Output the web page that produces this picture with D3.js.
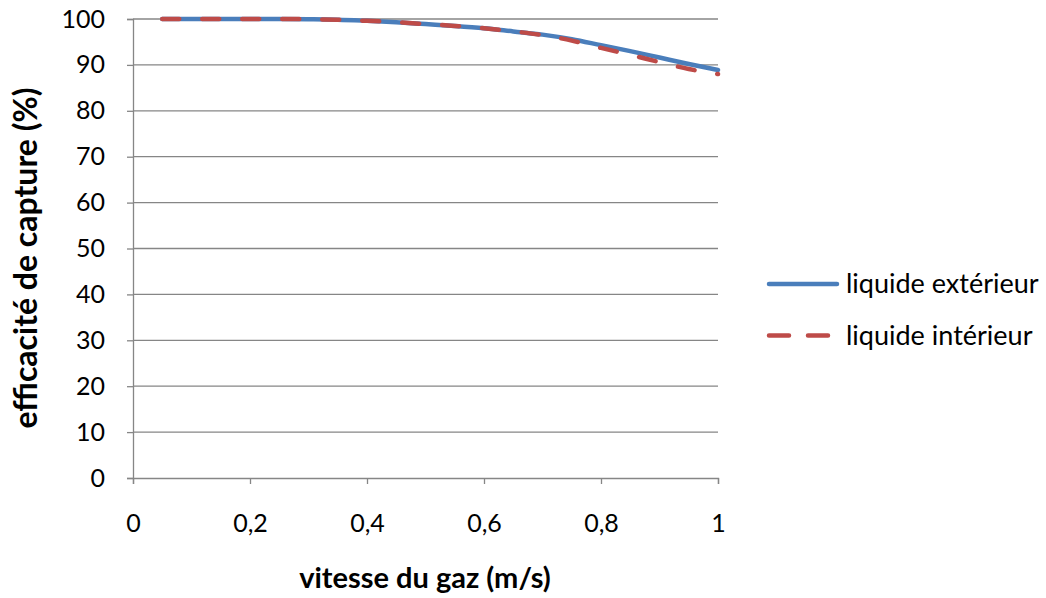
<!DOCTYPE html>
<html><head><meta charset="utf-8">
<script src="https://cdn.jsdelivr.net/npm/d3@7"></script>
<style>
body{margin:0;background:#fff;}
text{font-family:Lato,"Open Sans",sans-serif;fill:#000;}
</style></head>
<body><svg id="c" width="1046" height="598"></svg>
<script>
const xValues = [0.05,0.1,0.15,0.2,0.25,0.3,0.35,0.4,0.45,0.5,0.55,0.6,0.65,0.7,0.75,0.8,0.85,0.9,0.95,1.0];
const exterieur = [100,100,100,100,100,99.95,99.85,99.6,99.3,98.9,98.5,98.0,97.3,96.6,95.6,94.3,93.0,91.6,90.2,88.9];
const interieur = [100,100,100,100,100,99.95,99.85,99.6,99.3,98.9,98.5,98.0,97.3,96.5,95.3,93.7,92.2,90.6,89.1,88.0];
const xTicks = [0,0.2,0.4,0.6,0.8,1];
const xTickLabels = ["0","0,2","0,4","0,6","0,8","1"];
const yTicks = [0,10,20,30,40,50,60,70,80,90,100];
const seriesNames = ["liquide extérieur","liquide intérieur"];
const colors = ["#4a7ebb","#be4b48"];

const svg = d3.select("#c");
const x = d3.scaleLinear().domain([0,1]).range([133,718]);
const y = d3.scaleLinear().domain([0,100]).range([478,19]);
const grid = "#868686";

svg.append("g").selectAll("line").data(yTicks.filter(d=>d>0)).join("line")
  .attr("x1",x(0)).attr("x2",x(1)).attr("y1",d=>y(d)).attr("y2",d=>y(d))
  .attr("stroke",grid).attr("stroke-width",1.3);

const ya = svg.append("g").attr("transform",`translate(${x(0)},0)`)
  .call(d3.axisLeft(y).tickValues(yTicks).tickSize(6).tickPadding(22).tickFormat(d=>d));
ya.select(".domain").attr("stroke",grid).attr("stroke-width",1.3);
ya.selectAll(".tick line").attr("stroke",grid).attr("stroke-width",1.3);
ya.selectAll("text").style("font-size","25px");

const xa = svg.append("g").attr("transform",`translate(0,${y(0)})`)
  .call(d3.axisBottom(x).tickValues(xTicks).tickSize(6).tickPadding(30).tickFormat((d,i)=>xTickLabels[i]));
xa.select(".domain").attr("stroke",grid).attr("stroke-width",1.3);
xa.selectAll(".tick line").attr("stroke",grid).attr("stroke-width",1.3);
xa.selectAll("text").style("font-size","25px").attr("dy",null).attr("y",null);
xa.selectAll(".tick text").attr("y",54);

const line = d3.line().x(d=>x(d[0])).y(d=>y(d[1])).curve(d3.curveMonotoneX);
const ext = xValues.map((v,i)=>[v,exterieur[i]]);
const inn = xValues.map((v,i)=>[v,interieur[i]]);
svg.append("path").datum(ext).attr("d",line).attr("fill","none")
  .attr("stroke",colors[0]).attr("stroke-width",4.5).attr("stroke-linecap","round");
svg.append("path").datum(inn).attr("d",line).attr("fill","none")
  .attr("stroke",colors[1]).attr("stroke-width",4.5).attr("stroke-linecap","round")
  .attr("stroke-dasharray","17,23");

const lg = svg.append("g");
[0,1].forEach(i=>{
  const ly = 284 + i*51.5;
  lg.append("line").attr("x1",769).attr("x2",837).attr("y1",ly).attr("y2",ly)
    .attr("stroke",colors[i]).attr("stroke-width",4.5).attr("stroke-linecap","round")
    .attr("stroke-dasharray", i===1 ? "20,19" : null);
  lg.append("text").attr("x",846).attr("y",ly).attr("dy","0.35em")
    .style("font-size","27px").text(seriesNames[i]);
});

svg.append("text").attr("x",425).attr("y",588).attr("text-anchor","middle")
  .style("font-size","29px").style("font-weight","bold").text("vitesse du gaz (m/s)");
svg.append("text").attr("transform","translate(37,258) rotate(-90)").attr("text-anchor","middle")
  .style("font-size","32px").style("font-weight","bold").text("efficacité de capture (%)");
</script></body></html>
